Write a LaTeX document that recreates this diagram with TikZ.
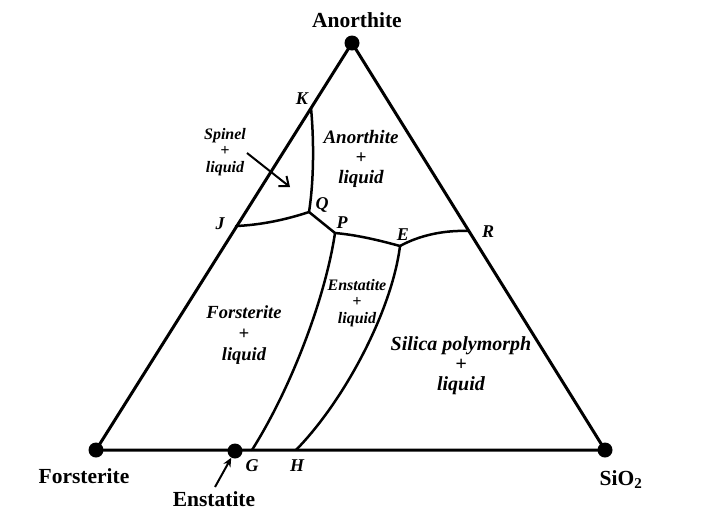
\documentclass[tikz,border=0pt]{standalone}
\usepackage{fontspec}
\setmainfont{Liberation Serif}
\usetikzlibrary{arrows.meta}
\begin{document}
\begin{tikzpicture}[x=1pt,y=-1pt,
  edge/.style={line width=3pt,line join=round,line cap=round},
  bound/.style={line width=2.5pt,line cap=round},
  dot/.style={circle,fill=black,inner sep=0pt,minimum size=15pt},
  mainlbl/.style={font=\fontsize{21.5}{24}\selectfont\bfseries,inner sep=0pt,anchor=base},
  ptlbl/.style={font=\fontsize{18}{20}\selectfont\bfseries\itshape,inner sep=0pt},
  fieldlbl/.style={align=center,inner sep=0pt,font=\fontsize{18.5}{21}\selectfont\bfseries\itshape},
  smalllbl/.style={align=center,inner sep=0pt,font=\fontsize{16}{16.7}\selectfont\bfseries\itshape},
  pointer/.style={line width=2pt}]
\useasboundingbox (0,0) rectangle (716,523);
% vertices
\coordinate (An) at (352,43);
\coordinate (Fo) at (96,450);
\coordinate (Si) at (605,450);
\coordinate (En) at (235,451);
% invariant and boundary points
\coordinate (K) at (311,108);
\coordinate (Q) at (309,212);
\coordinate (J) at (236,226);
\coordinate (P) at (335,233);
\coordinate (E) at (400,246);
\coordinate (R) at (469,231);
\coordinate (G) at (252,450);
\coordinate (H) at (296,450);
% triangle
\draw[edge] (An) -- (Fo) -- (Si) -- cycle;
% cotectic boundaries
\draw[bound] (K) .. controls (314,140) and (314,180) .. (Q);
\draw[bound] (J) .. controls (260,225) and (285,220) .. (Q);
\draw[bound] (Q) -- (P);
\draw[bound] (P) .. controls (357,235) and (378,240) .. (E);
\draw[bound] (E) .. controls (420,235) and (445,230) .. (R);
\draw[bound] (P) .. controls (325,300) and (290,390) .. (G);
\draw[bound] (E) .. controls (392,310) and (345,400) .. (H);
% dots
\node[dot] (dAn) at (An) {};
\node[dot] (dFo) at (Fo) {};
\node[dot] (dSi) at (Si) {};
\node[dot] (dEn) at (En) {};
% vertex labels
\node[mainlbl] (lAn) at (357,27) {Anorthite};
\node[mainlbl] (lFo) at (84,483) {Forsterite};
\node[mainlbl] (lEn) at (214,506) {Enstatite};
\node[mainlbl] (lSi) at (621,485) {SiO\textsubscript{2}};
% point labels
\node[ptlbl] (tK) at (302,99) {K};
\node[ptlbl] (tQ) at (322,205) {Q};
\node[ptlbl] (tJ) at (220,224) {J};
\node[ptlbl] (tP) at (342,223) {P};
\node[ptlbl] (tE) at (403,235) {E};
\node[ptlbl] (tR) at (488,232) {R};
\node[ptlbl] (tG) at (252,466) {G};
\node[ptlbl] (tH) at (297,466) {H};
% field labels
\node[smalllbl] (fSp) at (225,152) {Spinel\\+\\liquid};
\node[fieldlbl,font=\fontsize{19}{20}\selectfont\bfseries\itshape] (fAn) at (361,159) {Anorthite\\+\\liquid};
\node[fieldlbl] (fFo) at (244,335) {Forsterite\\+\\liquid};
\node[smalllbl] (fEn) at (357,303) {Enstatite\\+\\liquid};
\node[fieldlbl,font=\fontsize{20}{20}\selectfont\bfseries\itshape] (fSi) at (461,366) {Silica polymorph\\+\\liquid};
% pointers
\coordinate (spA) at (247,153);
\coordinate (spB) at (290,187);
\draw[pointer,-{Straight Barb[length=8pt,width=13pt,line width=2pt]}] (spA) -- (spB);
\coordinate (enA) at (215,487);
\draw[pointer,-{Stealth[length=9pt,width=8pt]}] (enA) -- (dEn);
\end{tikzpicture}
\end{document}
